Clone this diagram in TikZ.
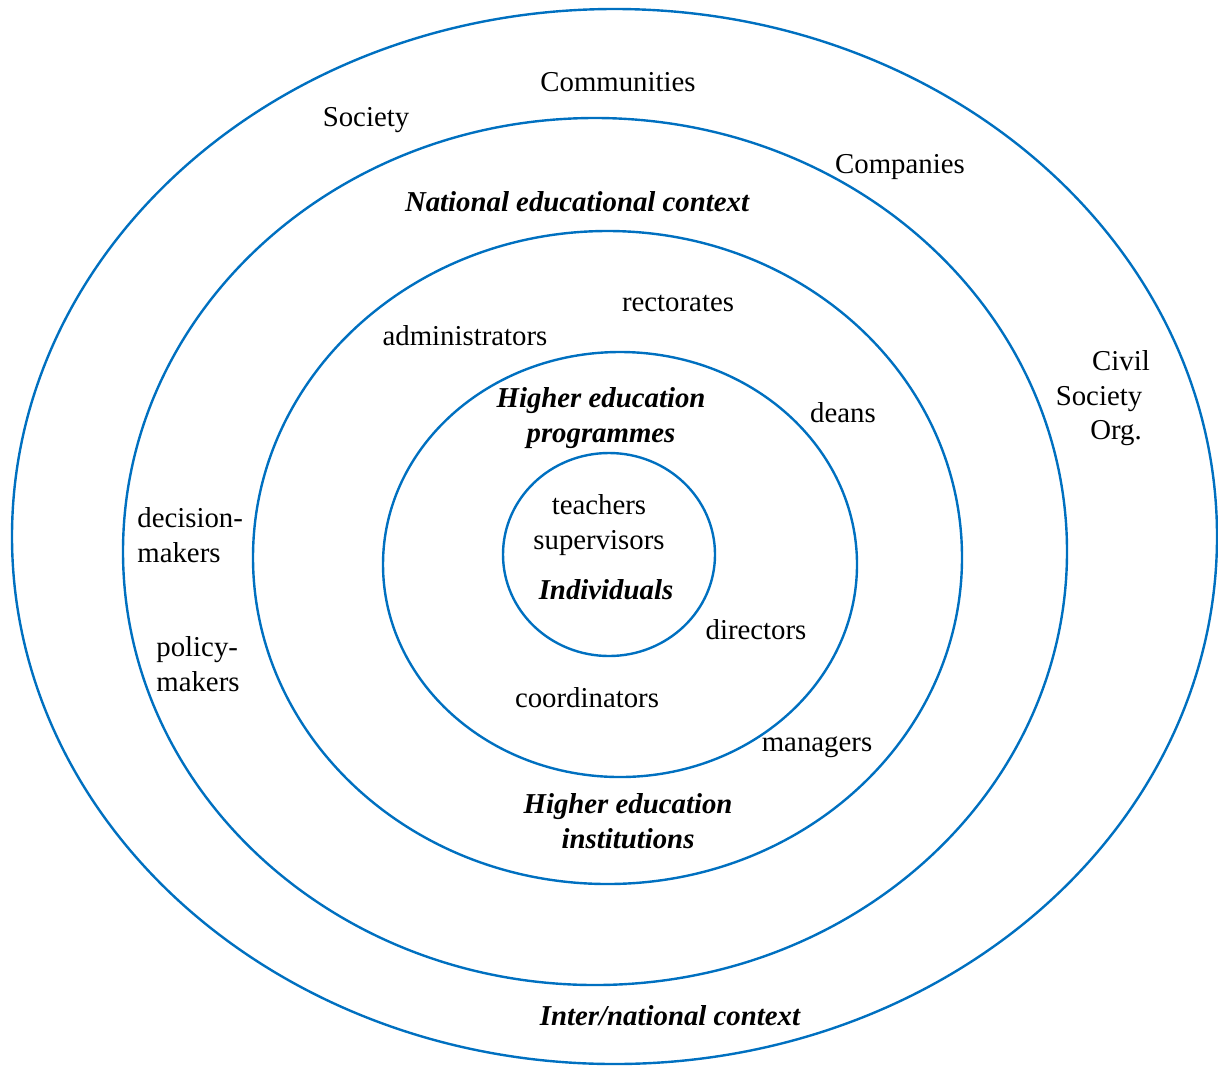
\documentclass[tikz,border=0pt]{standalone}
\usepackage{fontspec}
\setmainfont{Liberation Serif}
\definecolor{ringblue}{RGB}{0,112,192}
\begin{document}
\begin{tikzpicture}[x=0.5pt,y=-0.5pt,
  ring/.style={draw=ringblue,line width=1.2pt},
  lbl/.style={inner sep=0pt,font=\fontsize{14.4}{17.5}\selectfont},
  ctx/.style={lbl,font=\fontsize{14.4}{17.5}\selectfont\bfseries\itshape}]
\useasboundingbox (0,0) rectangle (1218,1066);
% rings
\draw[ring] (614.5,536.5) ellipse [x radius=602.5, y radius=527.5];
\draw[ring] (595,551.5) ellipse [x radius=472, y radius=433.5];
\draw[ring] (607.5,557.5) ellipse [x radius=354.5, y radius=326.5];
\draw[ring] (620,564.5) ellipse [x radius=237, y radius=212.5];
\draw[ring] (609,554.5) ellipse [x radius=106, y radius=101.5];
% outer labels
\node[lbl] (communities) at (618,82) {Communities};
\node[lbl] (society) at (366,120) {Society};
\node[lbl] (companies) at (900,167) {Companies};
\node[lbl] (civil) at (1121,361) {Civil};
\node[lbl] (civsoc) at (1099,399) {Society};
\node[lbl] (org) at (1116,433) {Org.};
\node[ctx] (inter) at (670,1016) {Inter/national context};
% national
\node[ctx] (national) at (577,202) {National educational context};
\node[lbl,align=left,anchor=west] (decision) at (137,535.5) {decision-\\makers};
\node[lbl,align=left,anchor=west] (policy) at (156,664.5) {policy-\\makers};
% institutions
\node[lbl] (rectorates) at (678,304) {rectorates};
\node[lbl] (admin) at (465,336) {administrators};
\node[lbl] (deans) at (843,413) {deans};
\node[lbl] (managers) at (817,747) {managers};
\node[ctx,align=center] (hei) at (628,821) {Higher education\\institutions};
% programmes
\node[ctx,align=center] (hep) at (601,418) {Higher education\\programmes};
\node[lbl] (directors) at (756,630) {directors};
\node[lbl] (coord) at (587,698) {coordinators};
% individuals
\node[lbl,align=center] (teachers) at (599,525.5) {teachers\\supervisors};
\node[ctx] (indiv) at (606,590) {Individuals};
\end{tikzpicture}
\end{document}
